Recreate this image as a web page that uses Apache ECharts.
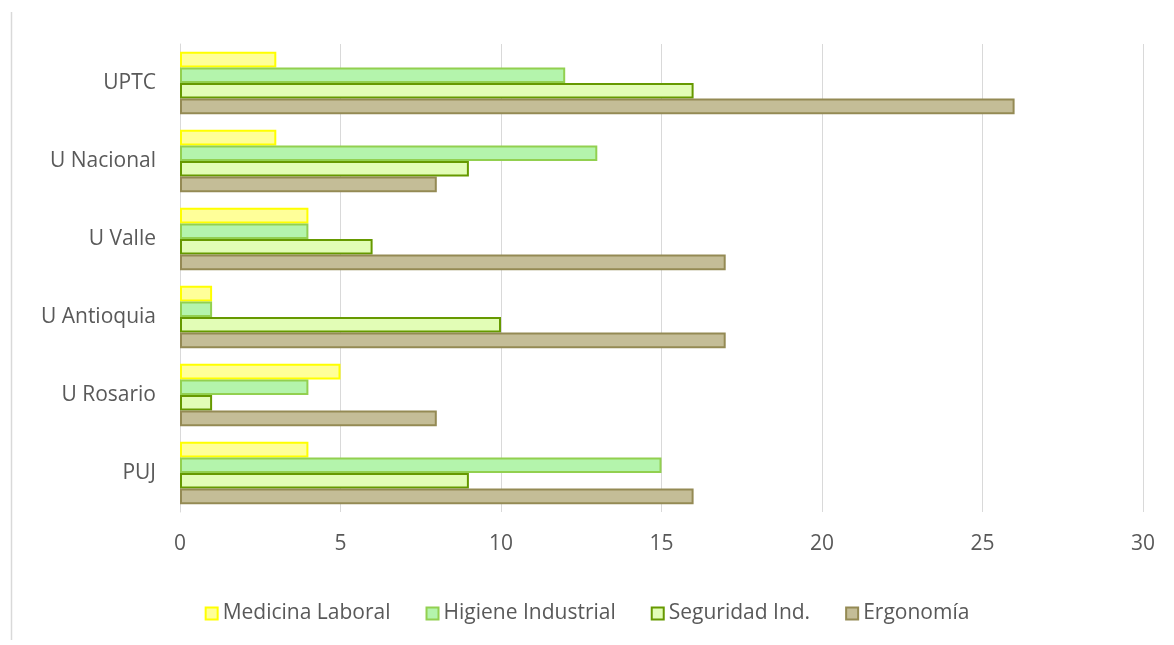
<!DOCTYPE html>
<html><head><meta charset="utf-8">
<script src="https://cdn.jsdelivr.net/npm/echarts@6/dist/echarts.min.js"></script>
<style>html,body{margin:0;padding:0;background:#fff}#c{width:1174px;height:645px}</style>
</head><body><div id="c"></div>
<script>
const categories = ['PUJ', 'U Rosario', 'U Antioquia', 'U Valle', 'U Nacional', 'UPTC'];
const medicinaLaboral = [4, 5, 1, 4, 3, 3];
const higieneIndustrial = [15, 4, 1, 4, 13, 12];
const seguridadInd = [9, 1, 10, 6, 9, 16];
const ergonomia = [16, 8, 17, 17, 8, 26];
const xTicks = [0, 5, 10, 15, 20, 25, 30];

const font = '"Open Sans", "Liberation Sans", sans-serif';
function mk(name, data, fill, border) {
  return {name, type: 'bar', data, barGap: '0%', barCategoryGap: '20%',
    itemStyle: {color: fill, borderColor: border, borderWidth: 2}};
}
const chart = echarts.init(document.getElementById('c'));
chart.setOption({
  animation: false,
  textStyle: {fontFamily: font},
  graphic: [{type: 'line', shape: {x1: 11.5, y1: 12, x2: 11.5, y2: 640}, style: {stroke: '#d9d9d9', lineWidth: 1.5}}],
  grid: {left: 180, right: 31, top: 44, bottom: 133},
  legend: {bottom: 16, left: 'center', icon: 'rect', itemWidth: 12, itemHeight: 12, itemGap: 35,
    data: ['Medicina Laboral', 'Higiene Industrial', 'Seguridad Ind.', 'Ergonomía'],
    textStyle: {color: '#595959', fontSize: 21, fontFamily: font}},
  xAxis: {type: 'value', min: 0, max: 30, interval: 5,
    axisLine: {show: false}, axisTick: {show: false},
    splitLine: {lineStyle: {color: '#d9d9d9', width: 1}},
    axisLabel: {color: '#595959', fontSize: 21, margin: 22, formatter: v => xTicks.includes(v) ? String(v) : ''}},
  yAxis: {type: 'category', data: categories,
    axisLine: {lineStyle: {color: '#d9d9d9', width: 1}}, axisTick: {show: false},
    axisLabel: {color: '#595959', fontSize: 21, margin: 24}},
  series: [
    mk('Medicina Laboral', medicinaLaboral, '#ffff99', '#ffff00'),
    mk('Higiene Industrial', higieneIndustrial, '#b4f4ac', '#92d050'),
    mk('Seguridad Ind.', seguridadInd, '#e2fdb6', '#669900'),
    mk('Ergonomía', ergonomia, '#c4bd97', '#948a54')
  ]
});
</script></body></html>
